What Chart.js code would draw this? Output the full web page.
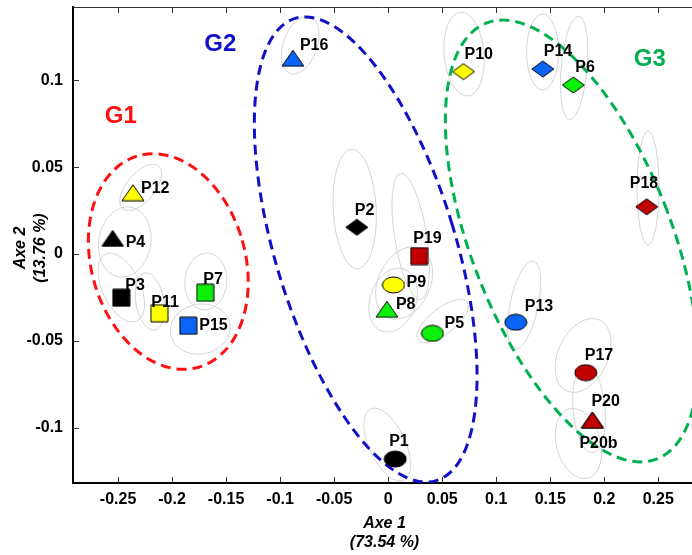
<!DOCTYPE html>
<html>
<head>
<meta charset="utf-8">
<script src="https://cdn.jsdelivr.net/npm/chart.js@4.4.1/dist/chart.umd.min.js"></script>
<style>
  html, body { margin: 0; padding: 0; background: #fff; }
  #wrap { width: 692px; height: 555px; }
</style>
</head>
<body>
<div id="wrap"><canvas id="pcaChart" width="692" height="555"></canvas></div>
<script>
// samples and their scores on the two first axes
const names = ['P1', 'P2', 'P3', 'P4', 'P5', 'P6', 'P7', 'P8', 'P9', 'P10', 'P11',
               'P12', 'P13', 'P14', 'P15', 'P16', 'P17', 'P18', 'P19', 'P20', 'P20b'];
const axe1 = [0.0065, -0.0290, -0.2470, -0.2550, 0.0410, 0.1714, -0.1693, -0.0012, 0.0049, 0.0697, -0.2118,
              -0.2362, 0.1181, 0.1431, -0.1850, -0.0882, 0.1829, 0.2393, 0.0287, 0.1890, 0.1890];
const axe2 = [-0.1180, 0.0154, -0.0252, 0.0090, -0.0457, 0.0973, -0.0223, -0.0318, -0.0178, 0.1050, -0.0341,
              0.0353, -0.0393, 0.1065, -0.0413, 0.1127, -0.0683, 0.0272, -0.0012, -0.0956, -0.0956];
const shapes = ['circle', 'diamond', 'square', 'triangle', 'circle', 'diamond', 'square', 'triangle',
                'circle', 'diamond', 'square', 'triangle', 'circle', 'diamond', 'square', 'triangle',
                'circle', 'diamond', 'square', 'triangle', 'triangle'];
const colours = ['#000000', '#000000', '#000000', '#000000', '#0CF00C', '#0CF00C', '#0CF00C', '#0CF00C',
                 '#FFFF00', '#FFFF00', '#FFFF00', '#FFFF00', '#0A64F5', '#0A64F5', '#0A64F5', '#0A64F5',
                 '#C00000', '#C00000', '#C00000', '#C00000', '#C00000'];

// confidence ellipse of each sample: centre, half axes (axis units), tilt in degrees
const ellCx = [-0.0009, -0.0310, -0.2470, -0.2438, 0.0504, 0.1721, -0.1688, 0.0046, 0.0148, 0.0703, -0.2206,
               -0.2290, 0.1258, 0.1429, -0.1739, -0.0814, 0.1804, 0.2405, 0.0208, 0.1859, 0.1762];
const ellCy = [-0.1097, 0.0259, -0.0193, 0.0069, -0.0386, 0.1071, -0.0158, -0.0265, -0.0167, 0.1151, -0.0273,
               0.0383, -0.0294, 0.1163, -0.0432, 0.1202, -0.0584, 0.0380, 0.0101, -0.0892, -0.1091];
const ellRx = [0.0167, 0.0199, 0.0176, 0.0241, 0.0120, 0.0120, 0.0194, 0.0213, 0.0241, 0.0185, 0.0130,
               0.0130, 0.0130, 0.0148, 0.0278, 0.0157, 0.0231, 0.0102, 0.0148, 0.0148, 0.0204];
const ellRy = [0.0227, 0.0345, 0.0213, 0.0204, 0.0178, 0.0299, 0.0164, 0.0190, 0.0219, 0.0242, 0.0167,
               0.0161, 0.0259, 0.0219, 0.0144, 0.0173, 0.0225, 0.0328, 0.0368, 0.0253, 0.0207];
const ellTilt = [-25, -3, -25, 10, 52, 5, 5, 20, 25, -5, -10, 40, 12, 0, -10, 20, 25, 0, -9, -5, -15];

// groups
const groupNames = ['G1', 'G2', 'G3'];
const groupColours = ['#FF1010', '#1010C8', '#00B050'];
const groupCx = [-0.2035, -0.0208, 0.1698];
const groupCy = [-0.0043, 0.0026, 0.0075];
const groupRx = [0.0712, 0.0833, 0.0925];
const groupRy = [0.0633, 0.1391, 0.1347];
const groupTilt = [-16, -17, -21.4];
const groupLabelX = [-0.2475, -0.1554, 0.2421];
const groupLabelY = [0.0790, 0.1209, 0.1123];

// axes
const xTicks = [-0.25, -0.2, -0.15, -0.1, -0.05, 0, 0.05, 0.1, 0.15, 0.2, 0.25];
const xTickLabels = ['-0.25', '-0.2', '-0.15', '-0.1', '-0.05', '0', '0.05', '0.1', '0.15', '0.2', '0.25'];
const yTicks = [-0.1, -0.05, 0, 0.05, 0.1];
const yTickLabels = ['-0.1', '-0.05', '0', '0.05', '0.1'];
const xTitle = ['Axe 1', '(73.54 %)'];
const yTitle = ['Axe 2', '(13.76 %)'];

// where each sample name sits relative to its marker (px)
const labelOffsets = [[-6, -17], [-2, -17], [4, -12], [13, 4], [12, -10], [2, -17], [-2, -13], [9, -5],
                      [13, -2], [1, -17], [-8, -11], [8, -4], [9, -16], [1, -17], [11, 0], [7, -13],
                      [-1, -17], [-17, -23], [-6, -18], [-1, -19], [-13, 23]];

const FONT = '"Liberation Sans", Arial, Helvetica, sans-serif';

// build marker images
function makeMarker(shape, fill) {
    const sizes = { circle: [22, 16], square: [17, 17], triangle: [22, 16], diamond: [22, 16] };
    const [w, h] = sizes[shape];
    const c = document.createElement('canvas');
    c.width = w + 2;
    c.height = h + 2;
    const g = c.getContext('2d');
    g.fillStyle = fill;
    g.strokeStyle = '#000';
    g.lineWidth = 1;
    g.beginPath();
    if (shape === 'circle') {
        g.ellipse(c.width / 2, c.height / 2, w / 2, h / 2, 0, 0, Math.PI * 2);
    } else if (shape === 'square') {
        g.rect(1, 1, w, h);
    } else if (shape === 'triangle') {
        g.moveTo(c.width / 2, 1);
        g.lineTo(w + 1, h + 1);
        g.lineTo(1, h + 1);
        g.closePath();
    } else {
        g.moveTo(c.width / 2, 1);
        g.lineTo(w + 1, c.height / 2);
        g.lineTo(c.width / 2, h + 1);
        g.lineTo(1, c.height / 2);
        g.closePath();
    }
    g.fill();
    g.stroke();
    return c;
}
const markers = shapes.map((s, i) => makeMarker(s, colours[i]));

function ellipsePath(ctx, xs, ys, cx, cy, rx, ry, tilt) {
    const kx = Math.abs(xs.getPixelForValue(1) - xs.getPixelForValue(0));
    const ky = Math.abs(ys.getPixelForValue(1) - ys.getPixelForValue(0));
    ctx.beginPath();
    ctx.ellipse(xs.getPixelForValue(cx), ys.getPixelForValue(cy), rx * kx, ry * ky,
                tilt * Math.PI / 180, 0, Math.PI * 2);
}

// grey ellipses + dashed group ellipses under the markers
const ellipsePlugin = {
    id: 'ellipses',
    beforeDatasetsDraw(chart) {
        const { ctx, chartArea: a, scales: { x, y } } = chart;
        ctx.save();
        ctx.beginPath();
        ctx.rect(a.left, a.top, a.right - a.left, a.bottom - a.top);
        ctx.clip();
        ctx.strokeStyle = '#D4D4D4';
        ctx.lineWidth = 1;
        for (let i = 0; i < ellCx.length; i++) {
            ellipsePath(ctx, x, y, ellCx[i], ellCy[i], ellRx[i], ellRy[i], ellTilt[i]);
            ctx.stroke();
        }
        ctx.lineWidth = 3;
        ctx.setLineDash([10, 6]);
        for (let i = 0; i < groupNames.length; i++) {
            ctx.strokeStyle = groupColours[i];
            ellipsePath(ctx, x, y, groupCx[i], groupCy[i], groupRx[i], groupRy[i], groupTilt[i]);
            ctx.stroke();
        }
        ctx.setLineDash([]);
        ctx.restore();
    },
    afterDatasetsDraw(chart) {
        const { ctx, scales: { x, y } } = chart;
        ctx.save();
        ctx.textBaseline = 'middle';
        ctx.textAlign = 'left';
        ctx.fillStyle = '#000';
        ctx.font = 'bold 16px ' + FONT;
        names.forEach((n, i) => {
            const px = x.getPixelForValue(axe1[i]) + labelOffsets[i][0];
            const py = y.getPixelForValue(axe2[i]) + labelOffsets[i][1];
            ctx.fillText(n, px, py);
        });
        ctx.textAlign = 'center';
        ctx.font = 'bold 24px ' + FONT;
        groupNames.forEach((g, i) => {
            ctx.fillStyle = groupColours[i];
            ctx.fillText(g, x.getPixelForValue(groupLabelX[i]), y.getPixelForValue(groupLabelY[i]));
        });
        ctx.restore();
    }
};

// inward tick marks, top frame line and axis titles
const framePlugin = {
    id: 'frame',
    afterDraw(chart) {
        const { ctx, chartArea: a, scales: { x, y } } = chart;
        ctx.save();
        ctx.strokeStyle = '#333';
        ctx.lineWidth = 1;
        ctx.beginPath();
        ctx.moveTo(a.left, a.top + 0.5);
        ctx.lineTo(a.right, a.top + 0.5);
        xTicks.forEach(v => {
            const px = Math.round(x.getPixelForValue(v)) + 0.5;
            ctx.moveTo(px, a.bottom);
            ctx.lineTo(px, a.bottom - 6);
            ctx.moveTo(px, a.top);
            ctx.lineTo(px, a.top + 6);
        });
        yTicks.forEach(v => {
            const py = Math.round(y.getPixelForValue(v)) + 0.5;
            ctx.moveTo(a.left, py);
            ctx.lineTo(a.left + 6, py);
        });
        ctx.stroke();

        ctx.fillStyle = '#000';
        ctx.font = 'italic bold 16px ' + FONT;
        ctx.textAlign = 'center';
        ctx.textBaseline = 'middle';
        const cx = (a.left + a.right) / 2 + 2;
        ctx.fillText(xTitle[0], cx, a.bottom + 41);
        ctx.fillText(xTitle[1], cx, a.bottom + 60);
        const cy = (a.top + a.bottom) / 2 + 3;
        ctx.translate(21, cy);
        ctx.rotate(-Math.PI / 2);
        ctx.fillText(yTitle[0], 0, 0);
        ctx.fillText(yTitle[1], 0, 20);
        ctx.restore();
    }
};

new Chart(document.getElementById('pcaChart'), {
    type: 'scatter',
    data: {
        datasets: [{
            data: axe1.map((v, i) => ({ x: v, y: axe2[i] })),
            pointStyle: markers,
            pointRadius: 10
        }]
    },
    options: {
        responsive: false,
        animation: false,
        events: [],
        layout: { autoPadding: false, padding: { top: 7, right: 0, left: 0, bottom: 0 } },
        plugins: { legend: { display: false }, tooltip: { enabled: false } },
        scales: {
            x: {
                type: 'linear',
                min: -0.2917,
                max: 0.2812,
                grid: { display: false, drawTicks: false },
                border: { display: true, color: '#000', width: 2 },
                afterBuildTicks: s => { s.ticks = xTicks.map(v => ({ value: v })); },
                afterFit: s => {
                    s.height = 72;
                    s.paddingLeft = 0;
                    s.paddingRight = 0;
                },
                ticks: {
                    padding: 7,
                    color: '#000',
                    maxRotation: 0,
                    autoSkip: false,
                    font: { family: FONT, size: 16, weight: 'bold' },
                    callback: (v, i) => xTickLabels[i]
                }
            },
            y: {
                type: 'linear',
                min: -0.1318,
                max: 0.1422,
                grid: { display: false, drawTicks: false },
                border: { display: true, color: '#000', width: 2 },
                afterBuildTicks: s => { s.ticks = yTicks.map(v => ({ value: v })); },
                afterFit: s => {
                    s.width = 73;
                    s.paddingTop = 0;
                    s.paddingBottom = 0;
                },
                ticks: {
                    padding: 10,
                    color: '#000',
                    autoSkip: false,
                    font: { family: FONT, size: 16, weight: 'bold' },
                    callback: (v, i) => yTickLabels[i]
                }
            }
        }
    },
    plugins: [ellipsePlugin, framePlugin]
});
</script>
</body>
</html>
